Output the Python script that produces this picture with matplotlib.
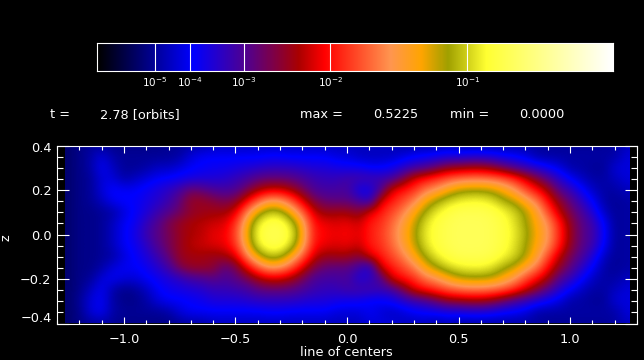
"""
Density slice along the line of centers, with the colour bar on top.
"""
import numpy as np
import matplotlib
matplotlib.use('Agg')
import matplotlib.pyplot as plt
from matplotlib.colors import LinearSegmentedColormap
from matplotlib.patches import Rectangle
from matplotlib.ticker import MultipleLocator

# colour level (percent along the colour bar)
x_centers = [round(-1.25 + 0.05 * i, 2) for i in range(51)]
z_centers = [0.40, 0.35, 0.30, 0.25, 0.20, 0.15, 0.10, 0.05, 0.0,
             -0.05, -0.10, -0.15, -0.20, -0.25, -0.30, -0.35, -0.40]
level_rows = [
    [8, 10, 11, 11, 10, 10, 10, 10, 10, 11, 11, 12, 12, 14, 14, 14, 14, 14, 14, 14, 14, 14, 14, 14, 14, 14, 14, 14, 14, 14, 12, 12, 12, 12, 14, 12, 12, 12, 12, 12, 12, 12, 12, 11, 11, 11, 11, 11, 11, 12, 14],
    [8, 10, 12, 16, 12, 11, 11, 11, 11, 11, 12, 16, 18, 18, 18, 18, 18, 18, 19, 19, 18, 18, 18, 18, 16, 16, 14, 14, 14, 14, 16, 18, 19, 20, 21, 21, 22, 22, 21, 19, 18, 16, 12, 12, 12, 12, 12, 12, 12, 12, 16],
    [8, 10, 12, 18, 14, 11, 11, 12, 14, 14, 16, 18, 19, 20, 20, 21, 22, 23, 24, 24, 24, 23, 22, 22, 21, 20, 20, 18, 18, 20, 23, 26, 28, 32, 36, 37, 38, 38, 36, 32, 28, 25, 22, 19, 16, 12, 12, 11, 11, 16, 16],
    [8, 10, 11, 16, 16, 12, 14, 16, 18, 19, 20, 21, 22, 22, 23, 25, 27, 30, 31, 31, 30, 28, 26, 25, 25, 27, 27, 27, 26, 27, 34, 42, 45, 48, 51, 53, 54, 54, 53, 51, 47, 41, 35, 29, 23, 18, 14, 12, 12, 14, 16],
    [8, 10, 11, 16, 19, 18, 18, 20, 22, 24, 27, 32, 30, 28, 27, 28, 33, 38, 41, 41, 38, 33, 28, 27, 27, 28, 20, 20, 28, 42, 45, 48, 54, 57, 62, 66, 67, 67, 66, 62, 57, 50, 44, 38, 29, 25, 19, 14, 12, 12, 14],
    [8, 10, 11, 14, 18, 19, 19, 21, 23, 26, 31, 37, 37, 35, 33, 35, 43, 52, 58, 57, 51, 42, 34, 31, 30, 30, 28, 23, 42, 46, 50, 55, 63, 68, 72, 74, 75, 75, 73, 69, 66, 60, 54, 44, 36, 30, 24, 18, 12, 11, 12],
    [8, 10, 10, 11, 12, 16, 19, 22, 26, 29, 32, 36, 37, 38, 38, 42, 55, 65, 71, 70, 62, 52, 41, 37, 38, 38, 35, 42, 46, 50, 55, 62, 69, 74, 77, 79, 79, 79, 78, 75, 72, 67, 60, 50, 40, 33, 28, 22, 14, 11, 12],
    [8, 10, 10, 11, 14, 18, 20, 25, 29, 34, 37, 39, 40, 41, 42, 48, 62, 74, 78, 78, 72, 60, 45, 43, 42, 43, 41, 46, 48, 53, 59, 66, 73, 77, 79, 80, 80, 80, 79, 77, 73, 68, 62, 56, 46, 36, 30, 26, 18, 11, 12],
    [8, 10, 10, 11, 14, 18, 21, 26, 30, 33, 37, 39, 40, 43, 43, 50, 64, 76, 79, 79, 75, 62, 46, 44, 43, 44, 42, 46, 49, 54, 60, 67, 74, 77, 79, 80, 80, 80, 79, 77, 74, 69, 63, 57, 47, 37, 30, 27, 19, 11, 12],
    [8, 10, 10, 11, 14, 18, 20, 24, 29, 33, 37, 40, 41, 42, 43, 48, 62, 74, 78, 78, 72, 60, 45, 43, 42, 43, 41, 46, 48, 53, 59, 66, 73, 77, 79, 80, 80, 80, 79, 77, 73, 68, 62, 56, 46, 36, 30, 26, 18, 11, 12],
    [8, 10, 10, 11, 12, 16, 19, 22, 26, 31, 37, 38, 38, 37, 38, 42, 55, 65, 71, 70, 62, 52, 41, 37, 38, 38, 35, 42, 46, 50, 55, 62, 69, 74, 77, 79, 79, 79, 78, 75, 72, 67, 60, 50, 40, 33, 28, 22, 14, 11, 12],
    [8, 10, 10, 12, 16, 18, 18, 20, 23, 27, 34, 37, 37, 36, 30, 33, 43, 52, 58, 57, 51, 42, 34, 31, 30, 30, 27, 21, 42, 46, 50, 55, 63, 68, 72, 74, 75, 75, 73, 69, 66, 60, 54, 44, 36, 30, 24, 18, 12, 11, 12],
    [8, 10, 11, 16, 18, 16, 16, 18, 20, 22, 24, 27, 28, 30, 28, 30, 33, 38, 41, 41, 38, 33, 28, 27, 27, 28, 22, 24, 28, 42, 45, 48, 54, 57, 62, 66, 67, 67, 66, 62, 57, 50, 44, 38, 29, 25, 19, 14, 12, 12, 14],
    [8, 10, 14, 18, 12, 10, 11, 14, 18, 20, 21, 22, 23, 25, 25, 26, 27, 30, 31, 31, 30, 28, 26, 25, 25, 27, 27, 27, 26, 27, 34, 42, 45, 48, 51, 53, 54, 54, 53, 51, 47, 41, 35, 29, 23, 18, 14, 12, 12, 14, 16],
    [8, 11, 16, 18, 12, 10, 10, 12, 16, 18, 18, 19, 20, 22, 22, 22, 23, 24, 24, 24, 24, 23, 22, 22, 21, 20, 20, 18, 18, 20, 23, 26, 28, 32, 36, 37, 38, 38, 36, 32, 28, 25, 22, 19, 16, 12, 12, 11, 11, 16, 16],
    [8, 10, 16, 18, 12, 11, 11, 11, 11, 12, 16, 18, 18, 18, 18, 18, 18, 18, 19, 19, 18, 18, 18, 18, 16, 16, 16, 18, 16, 14, 16, 18, 19, 20, 21, 21, 22, 22, 21, 19, 18, 16, 12, 12, 12, 12, 12, 12, 12, 12, 16],
    [8, 10, 11, 12, 11, 10, 10, 10, 10, 10, 11, 12, 12, 14, 14, 14, 14, 14, 14, 14, 14, 14, 14, 14, 14, 14, 14, 16, 16, 16, 14, 14, 14, 12, 14, 12, 12, 12, 12, 12, 12, 12, 12, 11, 11, 11, 11, 11, 11, 12, 14],
]

# colour bar stops and its tick labels
stop_levels = [0.0, 0.185, 0.30, 0.39, 0.44, 0.57, 0.63, 0.68, 0.755, 1.0]
stop_colors = ['#000000', '#0000ff', '#5a0082', '#aa0000', '#ff0000',
               '#ff9650', '#ffa500', '#a0a000', '#ffff32', '#ffffff']
cbar_tick_levels = [0.1126, 0.1806, 0.2854, 0.4524, 0.7184]
cbar_tick_labels = ['$10^{-5}$', '$10^{-4}$', '$10^{-3}$', '$10^{-2}$', '$10^{-1}$']
z_ticks = [-0.4, -0.2, 0.0, 0.2, 0.4]
z_tick_labels = ['', '\u22120.2', '0.0', '0.2', '']

W, H = 644, 360
FS = 9.3


def px_axes(fig, x0, y0, x1, y1):
    """Axes from pixel box, y measured from the top of the figure."""
    return fig.add_axes([x0 / W, 1 - y1 / H, (x1 - x0) / W, (y1 - y0) / H])


def main():
    plt.rcParams['font.family'] = ['DejaVu Sans']
    plt.rcParams['mathtext.default'] = 'regular'
    fig = plt.figure(figsize=(W / 100, H / 100), dpi=100, facecolor='black')
    cmap = LinearSegmentedColormap.from_list('rho', list(zip(stop_levels, stop_colors)), N=512)

    # colour bar
    cax = px_axes(fig, 97, 42.5, 612.5, 71)
    cax.imshow(np.linspace(0, 1, 516)[None, :], cmap=cmap, vmin=0, vmax=1,
               extent=(0, 1, 0, 1), aspect='auto', interpolation='nearest')
    for spine in cax.spines.values():
        spine.set_color('white')
        spine.set_linewidth(0.8)
    cax.set_xticks(cbar_tick_levels, cbar_tick_labels)
    cax.set_yticks([])
    cax.tick_params(axis='x', colors='white', labelsize=7.5, length=0, pad=3)
    for lev in cbar_tick_levels:
        cax.axvline(lev, color='white', lw=0.8)

    # main panel
    ax = px_axes(fig, 57, 145.5, 637, 323.5)
    ax.set_facecolor('black')
    levels = np.array(level_rows) / 100.0
    dx = x_centers[1] - x_centers[0]
    dz = z_centers[0] - z_centers[1]
    im = ax.imshow(levels, cmap=cmap, vmin=0, vmax=1, aspect='auto', interpolation='bicubic',
                   extent=(x_centers[0] - dx / 2, x_centers[-1] + dx / 2,
                           z_centers[-1] - dz / 2, z_centers[0] + dz / 2))
    clip = Rectangle((-1.265, -0.4), 2.53, 0.8, transform=ax.transData)
    im.set_clip_path(clip)
    ax.set_xlim(-1.3, 1.3)
    ax.set_ylim(-0.4, 0.4)

    ax.xaxis.set_major_locator(MultipleLocator(0.5))
    ax.xaxis.set_minor_locator(MultipleLocator(0.1))
    ax.set_yticks(z_ticks, z_tick_labels)
    ax.yaxis.set_minor_locator(MultipleLocator(0.05))
    ax.tick_params(axis='x', which='major', direction='in', top=True, length=5, width=0.8,
                   colors='white', labelsize=FS, pad=7)
    ax.tick_params(axis='x', which='minor', direction='in', top=True, length=2.8, width=0.8,
                   colors='white')
    ax.tick_params(axis='y', which='major', direction='in', right=True, length=8.6, width=0.8,
                   colors='white', labelsize=FS, pad=4)
    ax.tick_params(axis='y', which='minor', direction='in', right=True, length=4.5, width=0.8,
                   colors='white')
    for spine in ax.spines.values():
        spine.set_color('white')
        spine.set_linewidth(0.8)
    ax.set_zorder(2)

    # end labels sit inside the axis span
    fig.text(51.5 / W, 1 - 149 / H, '0.4', color='white', fontsize=FS, ha='right', va='center')
    fig.text(51.5 / W, 1 - 319 / H, '\u22120.4', color='white', fontsize=FS, ha='right', va='center')

    fig.text(346 / W, 1 - 353 / H, 'line of centers', color='white', fontsize=FS,
             ha='center', va='center')
    fig.text(6 / W, 1 - 238 / H, 'z', color='white', fontsize=FS, rotation=90,
             ha='center', va='center')

    # header line
    for x, s in [(50, 't ='), (100, '2.78 [orbits]'), (300, 'max ='), (373, '0.5225'),
                 (450, 'min ='), (519, '0.0000')]:
        fig.text(x / W, 1 - 115 / H, s, color='white', fontsize=FS, ha='left', va='center')

    fig.savefig('out.png', dpi=100, facecolor='black')
    plt.close(fig)


if __name__ == "__main__":
    main()
